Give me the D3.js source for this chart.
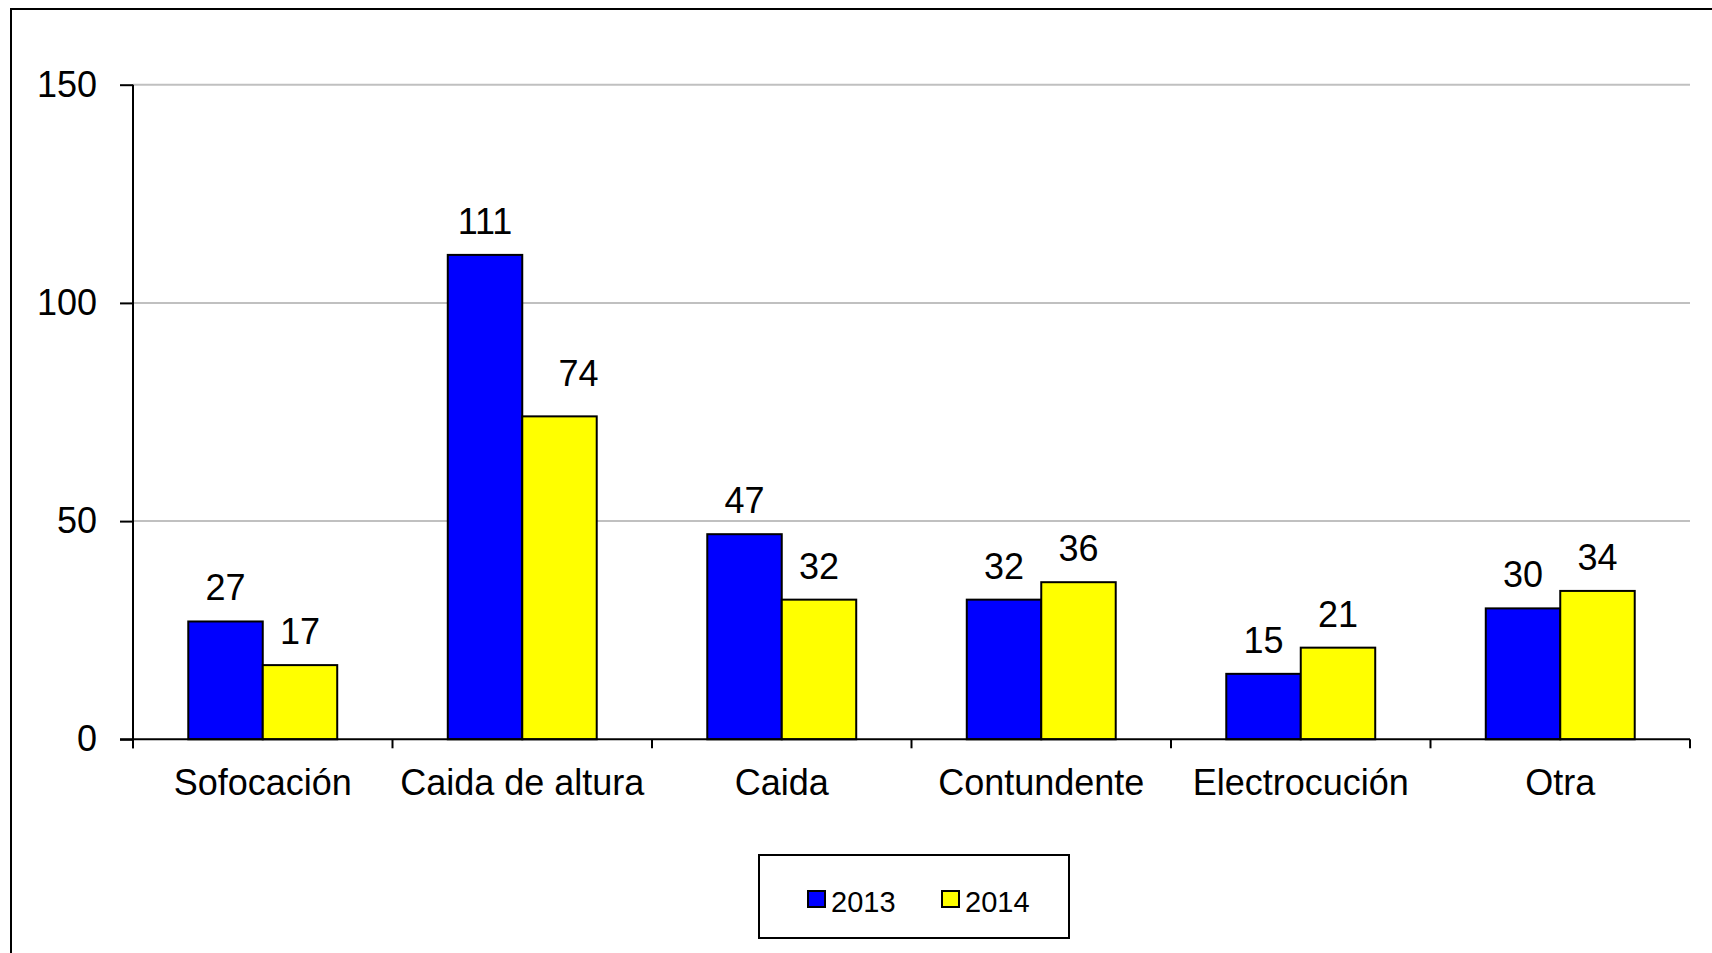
<!DOCTYPE html>
<html lang="es">
<head>
  <meta charset="UTF-8">
  <title>Causas 2013 - 2014</title>
  <script src="https://d3js.org/d3.v7.min.js"></script>
  <style>
    body { margin: 0; background: #fff; }
    text { font-family: 'Liberation Sans', Arial, sans-serif; fill: #000; }
  </style>
</head>
<body>
  <svg id="chart" width="1712" height="953"></svg>

  <script>
    const categories = ["Sofocación", "Caida de altura", "Caida", "Contundente", "Electrocución", "Otra"];
    const series = ["2013", "2014"];
    const values2013 = [27, 111, 47, 32, 15, 30];
    const values2014 = [17, 74, 32, 36, 21, 34];
    const yTicks = [0, 50, 100, 150];
    const colors = ["#0000ff", "#ffff00"];

    const dataset = categories.map((c, i) => ({
      cat: c,
      vals: [{ c: c, s: series[0], v: values2013[i] }, { c: c, s: series[1], v: values2014[i] }]
    }));

    // the "74" label was dragged a bit off its bar in the original
    const labelNudge = { "Caida de altura|2014": [19, -9] };
    const nudge = d => labelNudge[d.c + "|" + d.s] || [0, 0];

    const svg = d3.select("#chart");

    // outer frame (cut off at right / bottom like the original)
    svg.append("rect")
      .attr("x", 11).attr("y", 9)
      .attr("width", 1760).attr("height", 1000)
      .attr("fill", "none").attr("stroke", "#000").attr("stroke-width", 2);

    const plotLeft = 133, plotRight = 1690, plotTop = 84.7, plotBottom = 739.3;

    const y = d3.scaleLinear().domain([0, 150]).range([plotBottom, plotTop]);
    const x0 = d3.scaleBand().domain(categories).range([plotLeft, plotRight]).padding(0);
    const bw = x0.bandwidth();
    const x1 = d3.scaleBand().domain(series).range([bw * 0.213, bw * 0.787]).padding(0);

    // gridlines
    svg.append("g")
      .selectAll("line")
      .data(yTicks.filter(d => d > 0))
      .enter().append("line")
      .attr("x1", plotLeft).attr("x2", plotRight)
      .attr("y1", d => y(d)).attr("y2", d => y(d))
      .attr("stroke", "#c0c0c0").attr("stroke-width", 2);

    // bars
    const groups = svg.append("g")
      .selectAll("g")
      .data(dataset)
      .enter().append("g")
      .attr("transform", d => `translate(${x0(d.cat)},0)`);

    groups.selectAll("rect")
      .data(d => d.vals)
      .enter().append("rect")
      .attr("x", d => x1(d.s))
      .attr("y", d => y(d.v))
      .attr("width", x1.bandwidth())
      .attr("height", d => y(0) - y(d.v))
      .attr("fill", (d, i) => colors[i])
      .attr("stroke", "#000")
      .attr("stroke-width", 2);

    groups.selectAll("text")
      .data(d => d.vals)
      .enter().append("text")
      .attr("x", d => x1(d.s) + x1.bandwidth() / 2 + nudge(d)[0])
      .attr("y", d => y(d.v) - 21 + nudge(d)[1])
      .attr("text-anchor", "middle")
      .style("font-size", "36px")
      .text(d => d.v);

    // y axis
    const yAxis = svg.append("g")
      .attr("transform", `translate(${plotLeft},0)`)
      .call(d3.axisLeft(y).tickValues(yTicks).tickSize(13).tickSizeOuter(0).tickPadding(23));
    yAxis.select(".domain").attr("stroke", "#000").attr("stroke-width", 2)
      .attr("d", `M0,${plotBottom + 9}V${plotTop}`);
    yAxis.selectAll(".tick line").attr("stroke", "#000").attr("stroke-width", 2);
    yAxis.selectAll("text").style("font-size", "36px").attr("fill", "#000");

    // x axis: labels centered, ticks at category boundaries
    const xAxis = svg.append("g")
      .attr("transform", `translate(0,${plotBottom})`)
      .call(d3.axisBottom(x0).tickSize(0).tickPadding(30));
    xAxis.select(".domain").remove();
    xAxis.selectAll("text").style("font-size", "36px").attr("fill", "#000");

    svg.append("line")
      .attr("x1", plotLeft - 13).attr("x2", plotRight)
      .attr("y1", plotBottom).attr("y2", plotBottom)
      .attr("stroke", "#000").attr("stroke-width", 2);

    svg.append("g")
      .selectAll("line")
      .data(categories.map(c => x0(c)).concat([plotRight]))
      .enter().append("line")
      .attr("x1", d => d).attr("x2", d => d)
      .attr("y1", plotBottom).attr("y2", plotBottom + 9)
      .attr("stroke", "#000").attr("stroke-width", 2);

    // legend
    const legend = svg.append("g");
    legend.append("rect")
      .attr("x", 759).attr("y", 855)
      .attr("width", 310).attr("height", 83)
      .attr("fill", "#fff").attr("stroke", "#000").attr("stroke-width", 2);

    const legendX = [808, 942];
    series.forEach((s, i) => {
      legend.append("rect")
        .attr("x", legendX[i]).attr("y", 891)
        .attr("width", 17).attr("height", 16)
        .attr("fill", colors[i]).attr("stroke", "#000").attr("stroke-width", 2);
      legend.append("text")
        .attr("x", legendX[i] + 23).attr("y", 912)
        .style("font-size", "29px")
        .text(s);
    });
  </script>
</body>
</html>
